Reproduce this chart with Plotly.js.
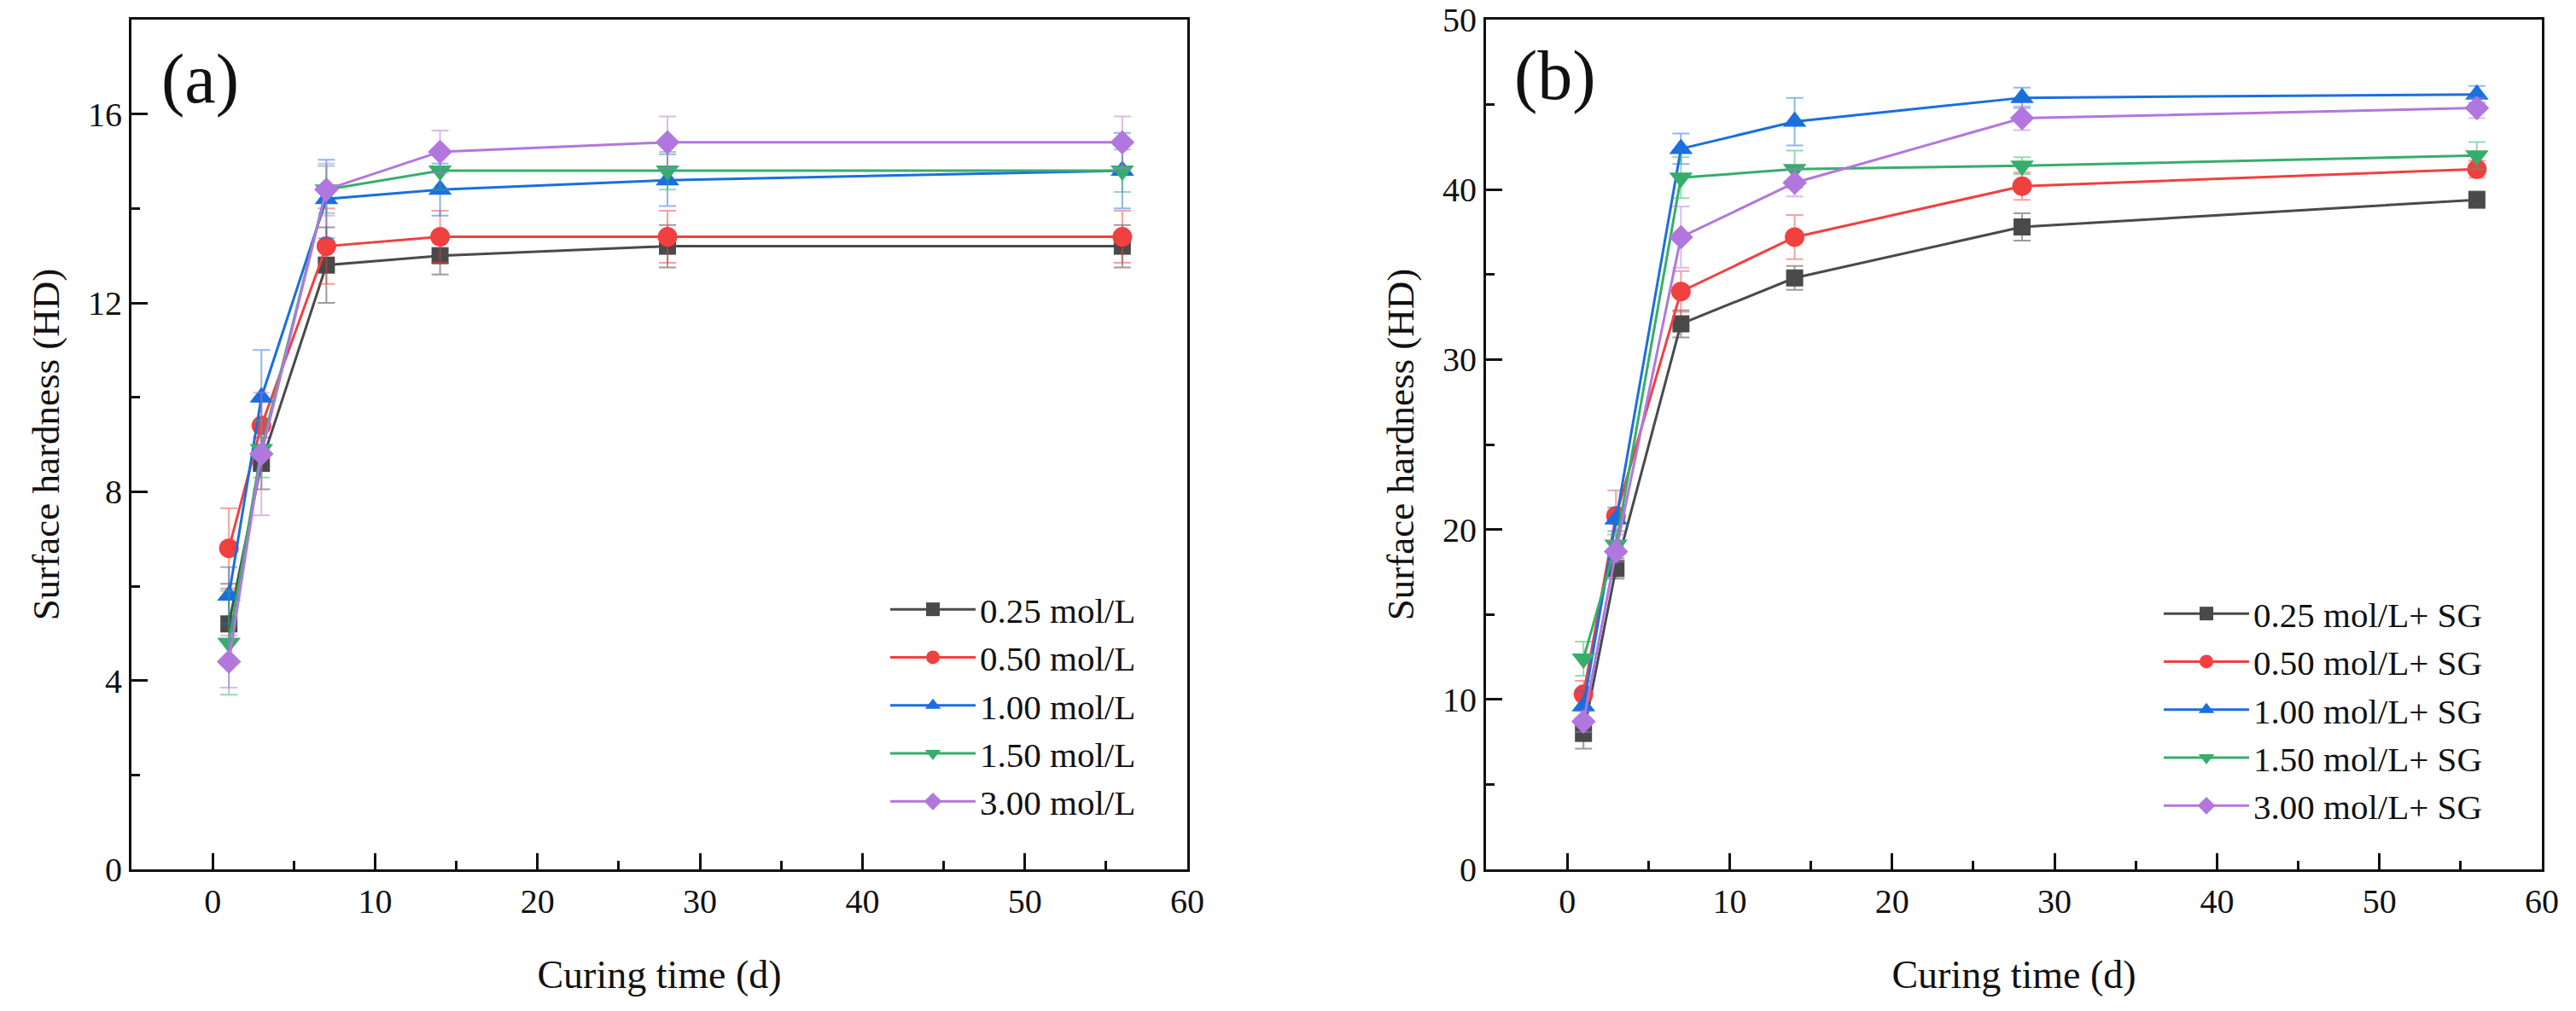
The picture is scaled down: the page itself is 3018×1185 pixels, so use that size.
<!DOCTYPE html>
<html>
<head>
<meta charset="utf-8">
<script src="https://cdn.plot.ly/plotly-3.0.1.min.js"></script>
<style>
  html, body { margin: 0; padding: 0; background: #ffffff; }
  #chart { width: 3018px; height: 1185px; }
</style>
</head>
<body>
<div id="chart"></div>
<script>
// ---------- data ----------
const days = [1, 3, 7, 14, 28, 56];

const namesA = ['0.25 mol/L', '0.50 mol/L', '1.00 mol/L', '1.50 mol/L', '3.00 mol/L'];
const namesB = ['0.25 mol/L+ SG', '0.50 mol/L+ SG', '1.00 mol/L+ SG', '1.50 mol/L+ SG', '3.00 mol/L+ SG'];

// panel (a): without SG
const hardA025 = [5.2, 8.6, 12.8, 13.0, 13.2, 13.2];
const hardA050 = [6.8, 9.4, 13.2, 13.4, 13.4, 13.4];
const hardA100 = [5.8, 10.0, 14.2, 14.4, 14.6, 14.8];
const hardA150 = [4.8, 8.9, 14.4, 14.8, 14.8, 14.8];
const hardA300 = [4.4, 8.8, 14.4, 15.2, 15.4, 15.4];

const errA025 = [0.85, 0.55, 0.8, 0.4, 0.45, 0.45];
const errA050 = [0.85, 0.5, 0.8, 0.55, 0.55, 0.55];
const errA100 = [0.6, 1.0, 0.83, 0.55, 0.55, 0.8];
const errA150 = [1.1, 0.6, 0.5, 0.4, 0.4, 0.45];
const errA300 = [0.55, 1.3, 0.55, 0.45, 0.55, 0.55];

// panel (b): with SG
const hardB025 = [8.0, 17.7, 32.1, 34.8, 37.8, 39.4];
const hardB050 = [10.3, 20.8, 34.0, 37.2, 40.2, 41.2];
const hardB100 = [9.6, 20.6, 42.4, 44.0, 45.4, 45.6];
const hardB150 = [12.4, 19.1, 40.7, 41.2, 41.4, 42.0];
const hardB300 = [8.7, 18.7, 37.2, 40.4, 44.2, 44.8];

const errB025 = [0.9, 0.6, 0.8, 0.7, 0.8, 0.5];
const errB050 = [0.8, 1.5, 1.2, 1.3, 0.8, 0.5];
const errB100 = [0.9, 0.7, 0.9, 1.4, 0.6, 0.5];
const errB150 = [1.0, 0.6, 1.2, 1.1, 0.5, 0.8];
const errB300 = [0.6, 0.6, 1.8, 0.8, 0.7, 0.6];

const xTicks = [0, 10, 20, 30, 40, 50, 60];
const yTicksA = [0, 4, 8, 12, 16];
const yTicksB = [0, 10, 20, 30, 40, 50];

// ---------- styles ----------
const colors = ['#4a4a4a', '#f14040', '#1a6fdf', '#37ad6b', '#b177de'];
const errColors = ['rgba(74,74,74,0.55)', 'rgba(241,64,64,0.5)', 'rgba(26,111,223,0.5)', 'rgba(55,173,107,0.5)', 'rgba(177,119,222,0.5)'];
const symbols = ['square', 'circle', 'triangle-up', 'triangle-down', 'diamond'];
const sizes = [20, 23, 24, 24, 22];
const FONT = 'Liberation Serif, Times New Roman, serif';

const seriesA = [hardA025, hardA050, hardA100, hardA150, hardA300];
const errsA = [errA025, errA050, errA100, errA150, errA300];
const seriesB = [hardB025, hardB050, hardB100, hardB150, hardB300];
const errsB = [errB025, errB050, errB100, errB150, errB300];

function makeTrace(name, ys, errs, i, xa, ya, lg) {
  return {
    type: 'scatter', mode: 'lines+markers',
    x: days, y: ys, name: name,
    xaxis: xa, yaxis: ya, legend: lg,
    line: { color: colors[i], width: 3 },
    marker: { symbol: symbols[i], size: sizes[i], color: colors[i], line: { width: 0 } },
    error_y: { type: 'data', array: errs, visible: true, color: errColors[i], thickness: 2, width: 10 }
  };
}

const traces = [];
for (let i = 0; i < 5; i++) traces.push(makeTrace(namesA[i], seriesA[i], errsA[i], i, 'x', 'y', 'legend'));
for (let i = 0; i < 5; i++) traces.push(makeTrace(namesB[i], seriesB[i], errsB[i], i, 'x2', 'y2', 'legend2'));

const W = 3018, H = 1185;
function px(v) { return v / W; }
function py(v) { return 1 - v / H; }

function xAxis(domain, anchor) {
  return {
    domain: domain, anchor: anchor, range: [-5, 60],
    tickmode: 'array', tickvals: xTicks, ticktext: xTicks.map(String),
    ticks: 'inside', ticklen: 19, tickwidth: 3, tickcolor: '#111',
    minor: { tickmode: 'linear', tick0: 5, dtick: 10, ticks: 'inside', ticklen: 10, tickwidth: 3, tickcolor: '#111', showgrid: false },
    showline: true, linewidth: 3, linecolor: '#111', mirror: true,
    showgrid: false, zeroline: false,
    tickfont: { family: FONT, size: 40, color: '#111' },
    title: { text: 'Curing time (d)', font: { family: FONT, size: 46, color: '#111' }, standoff: 48 },
    automargin: false
  };
}
function yAxis(domain, anchor, range, ticks, minorTick0, minorD) {
  return {
    domain: domain, anchor: anchor, range: range,
    tickmode: 'array', tickvals: ticks, ticktext: ticks.map(String),
    ticks: 'inside', ticklen: 19, tickwidth: 3, tickcolor: '#111',
    minor: { tickmode: 'linear', tick0: minorTick0, dtick: minorD, ticks: 'inside', ticklen: 10, tickwidth: 3, tickcolor: '#111', showgrid: false },
    showline: true, linewidth: 3, linecolor: '#111', mirror: true,
    showgrid: false, zeroline: false,
    tickfont: { family: FONT, size: 40, color: '#111' },
    title: { text: 'Surface hardness (HD)', font: { family: FONT, size: 45, color: '#111' }, standoff: 20 },
    automargin: false
  };
}

const yDom = [py(1019), py(23)];

const layout = {
  width: W, height: H,
  margin: { l: 0, r: 0, t: 0, b: 0, pad: 0 },
  paper_bgcolor: '#ffffff', plot_bgcolor: '#ffffff',
  font: { family: FONT, color: '#111' },
  showlegend: true,
  xaxis: xAxis([px(154), px(1391)], 'y'),
  yaxis: yAxis(yDom, 'x', [0, 18], yTicksA, 2, 4),
  xaxis2: xAxis([px(1741), px(2978)], 'y2'),
  yaxis2: yAxis(yDom, 'x2', [0, 50], yTicksB, 5, 10),
  legend: {
    x: px(1038), y: py(681), xanchor: 'left', yanchor: 'top',
    bgcolor: 'rgba(0,0,0,0)', borderwidth: 0,
    font: { family: FONT, size: 41, color: '#111' },
    itemsizing: 'trace', itemwidth: 100, tracegroupgap: 0
  },
  legend2: {
    x: px(2530), y: py(686), xanchor: 'left', yanchor: 'top',
    bgcolor: 'rgba(0,0,0,0)', borderwidth: 0,
    font: { family: FONT, size: 41, color: '#111' },
    itemsizing: 'trace', itemwidth: 100, tracegroupgap: 0
  },
  annotations: [
    { text: '(a)', xref: 'paper', yref: 'paper', x: px(235), y: py(92), xanchor: 'center', yanchor: 'middle', showarrow: false, font: { family: FONT, size: 82, color: '#111' } },
    { text: '(b)', xref: 'paper', yref: 'paper', x: px(1822), y: py(88), xanchor: 'center', yanchor: 'middle', showarrow: false, font: { family: FONT, size: 82, color: '#111' } }
  ]
};

Plotly.newPlot('chart', traces, layout, { displayModeBar: false, staticPlot: true });
</script>
</body>
</html>
